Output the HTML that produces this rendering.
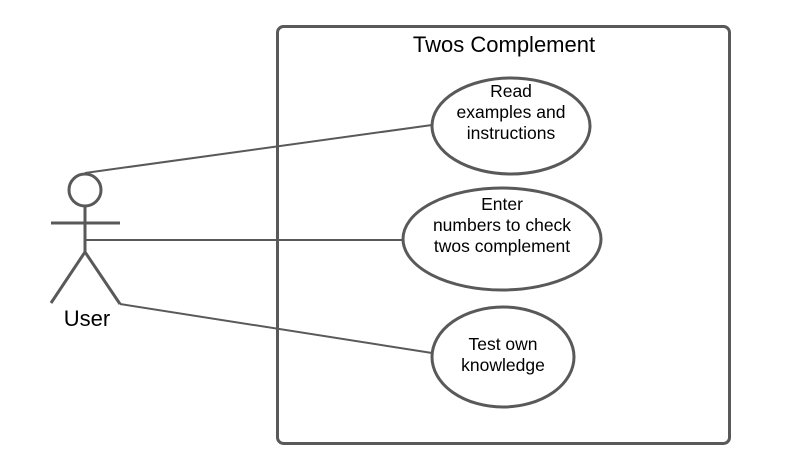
<!DOCTYPE html>
<html><head><meta charset="utf-8"><style>
html,body{margin:0;padding:0;background:#fff;width:786px;height:466px;overflow:hidden}
svg{display:block}
text{font-family:"Liberation Sans",Arial,sans-serif;fill:#000}
</style></head><body>
<svg width="786" height="466" viewBox="0 0 786 466" xmlns="http://www.w3.org/2000/svg">
<g stroke="#595959" fill="none" stroke-width="3">
<rect x="277.5" y="26.5" width="452" height="417" rx="6"/>
</g>
<g stroke="#595959" fill="none" stroke-width="2">
<line x1="85" y1="173" x2="432" y2="125"/>
<line x1="85" y1="240" x2="403" y2="240"/>
<line x1="120" y1="304" x2="432" y2="353"/>
</g>
<g stroke="#595959" stroke-width="3" fill="#fff">
<ellipse cx="511" cy="126" rx="79" ry="48"/>
<ellipse cx="502" cy="239" rx="99" ry="51"/>
<ellipse cx="503" cy="357" rx="71" ry="50"/>
<circle cx="85" cy="190" r="16"/>
</g>
<g stroke="#595959" stroke-width="3" fill="none">
<line x1="51" y1="223" x2="120" y2="223"/>
<line x1="85" y1="206" x2="85" y2="252"/>
<polyline points="51,303 85,252 120,304"/>
</g>
<text x="504" y="52" font-size="22" text-anchor="middle" fill="#333">Twos Complement</text>
<text x="87" y="326" font-size="22" text-anchor="middle" fill="#333">User</text>
<g font-size="17.5" text-anchor="middle">
<text x="511" y="97">Read</text>
<text x="511" y="118">examples and</text>
<text x="511" y="139">instructions</text>
<text x="502" y="210">Enter</text>
<text x="502" y="231">numbers to check</text>
<text x="502" y="252">twos complement</text>
<text x="503" y="350">Test own</text>
<text x="503" y="371">knowledge</text>
</g>
</svg>
</body></html>
